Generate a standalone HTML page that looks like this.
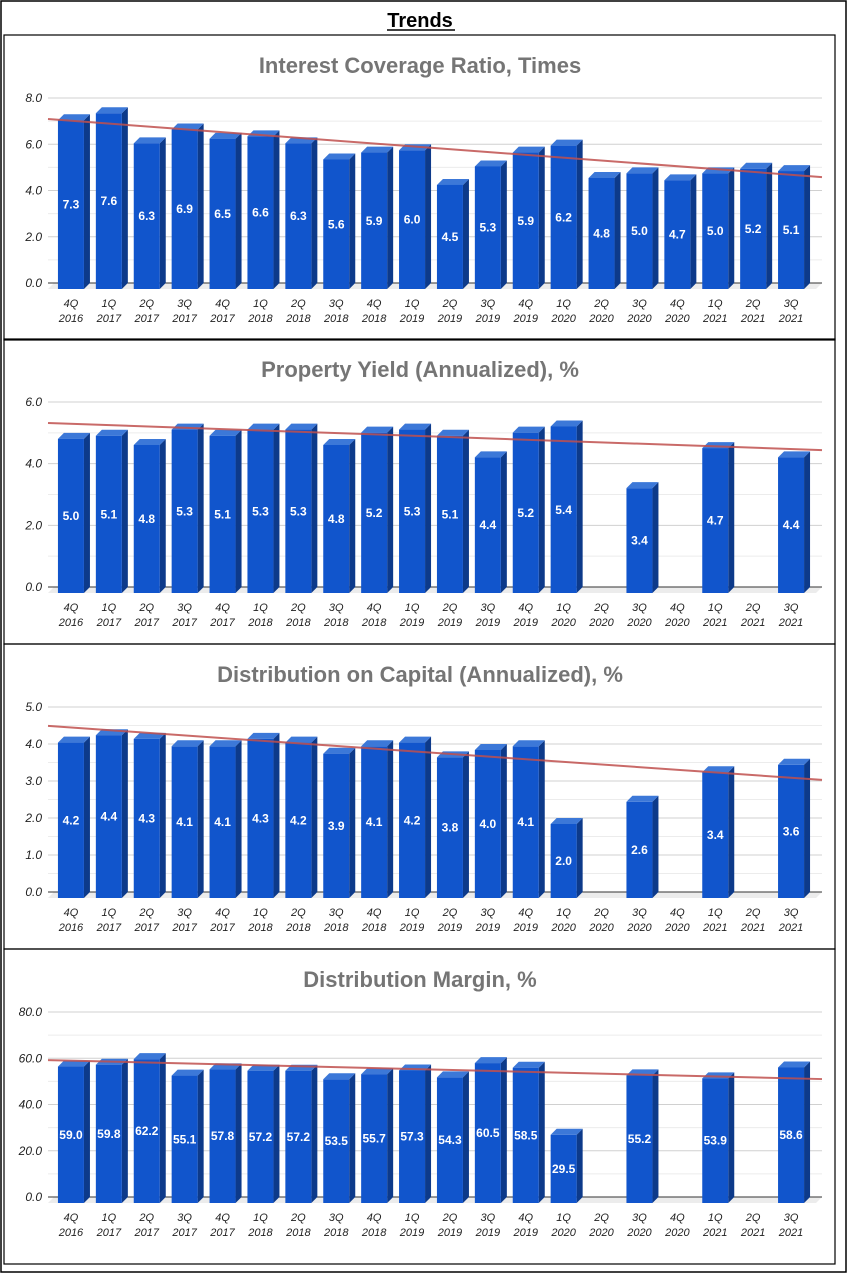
<!DOCTYPE html>
<html><head><meta charset="utf-8"><style>
body{margin:0;background:#fff;font-family:"Liberation Sans",Arial,sans-serif}
svg text{font-family:"Liberation Sans",Arial,sans-serif}
</style></head><body>
<svg id="s" width="848" height="1276" xmlns="http://www.w3.org/2000/svg">
<rect x="1" y="1" width="845" height="1271" fill="none" stroke="#000" stroke-width="1.5"/>
<text x="420" y="27" text-anchor="middle" font-size="20" font-weight="bold">Trends</text>
<line x1="387" y1="30" x2="455" y2="30" stroke="#000" stroke-width="1.5"/>
</svg>
<script>
const categories=["4Q|2016","1Q|2017","2Q|2017","3Q|2017","4Q|2017","1Q|2018","2Q|2018","3Q|2018","4Q|2018","1Q|2019","2Q|2019","3Q|2019","4Q|2019","1Q|2020","2Q|2020","3Q|2020","4Q|2020","1Q|2021","2Q|2021","3Q|2021"];
const icrValues=[7.3,7.6,6.3,6.9,6.5,6.6,6.3,5.6,5.9,6.0,4.5,5.3,5.9,6.2,4.8,5.0,4.7,5.0,5.2,5.1];
const yieldValues=[5.0,5.1,4.8,5.3,5.1,5.3,5.3,4.8,5.2,5.3,5.1,4.4,5.2,5.4,null,3.4,null,4.7,null,4.4];
const docValues=[4.2,4.4,4.3,4.1,4.1,4.3,4.2,3.9,4.1,4.2,3.8,4.0,4.1,2.0,null,2.6,null,3.4,null,3.6];
const marginValues=[59.0,59.8,62.2,55.1,57.8,57.2,57.2,53.5,55.7,57.3,54.3,60.5,58.5,29.5,null,55.2,null,53.9,null,58.6];
const icrTicks=[0,2,4,6,8];
const yieldTicks=[0,2,4,6];
const docTicks=[0,1,2,3,4,5];
const marginTicks=[0,20,40,60,80];
const icrTrend=[7.09,4.58];
const yieldTrend=[5.32,4.44];
const docTrend=[4.49,3.03];
const marginTrend=[59.2,51.0];

const NS="http://www.w3.org/2000/svg";
const svg=document.getElementById('s');
function mk(tag,attrs,parent){const e=document.createElementNS(NS,tag);for(const k in attrs)e.setAttribute(k,attrs[k]);(parent||svg).appendChild(e);return e;}

function chart(top,title,vals,ticks,trend,dec,key){
  const g=mk('g',{});
  
  
  const panelH=(key==='margin')?315:305;
  const box=mk('rect',{x:4,y:top,width:831,height:panelH,fill:'none',stroke:'#000','stroke-width':1.2},g);
  
  
  const t=mk('text',{x:420,y:top+38,'text-anchor':'middle','font-size':22,'font-weight':'bold',fill:'#757575'},g);
  t.textContent=title;
  
  
  const y0=top+248, yTop=top+63, max=ticks[ticks.length-1];
  const Y=v=>y0-(v/max)*(y0-yTop);
  const x0=48,x1=822,bx0=52,step=37.9;
  const X=i=>bx0+step*i+step/2;
  for(let i=0;i<ticks.length;i++){
    if(i<ticks.length-1){const ym=Y((ticks[i]+ticks[i+1])/2);mk('line',{x1:x0,x2:x1,y1:ym,y2:ym,stroke:'#ececec'},g);}
    const yy=Y(ticks[i]);
    if(i>0)mk('line',{x1:x0,x2:x1,y1:yy,y2:yy,stroke:'#d0d0d0'},g);
    const tl=mk('text',{x:42,y:yy+4,'text-anchor':'end','font-size':12,'font-style':'italic',fill:'#222'},g);
    tl.textContent=ticks[i].toFixed(1);
    
    
  }
  mk('polygon',{points:`${x0},${y0+6} ${x1-6},${y0+6} ${x1},${y0} ${x0+6},${y0}`,fill:'#ececec'},g);
  mk('line',{x1:x0,x2:x1,y1:y0,y2:y0,stroke:'#333'},g);
  vals.forEach((v,i)=>{
    const cx=X(i);
    const lab=categories[i].split('|');
    const xl=mk('text',{x:cx,y:y0+24,'text-anchor':'middle','font-size':11,'font-style':'italic',fill:'#222'},g);
    const s1=mk('tspan',{x:cx},xl);s1.textContent=lab[0];
    const s2=mk('tspan',{x:cx,dy:15},xl);s2.textContent=lab[1];
    
    
    if(v==null)return;
    const bx=cx-13,bw=26,d=6;
    const ft=Y(v)+d, fb=y0+d;
    const bg=mk('g',{},g);
    
    
    mk('polygon',{points:`${bx+bw},${ft} ${bx+bw+d},${ft-d} ${bx+bw+d},${fb-d} ${bx+bw},${fb}`,fill:'#0d3a8a'},bg);
    mk('polygon',{points:`${bx},${ft} ${bx+d},${ft-d} ${bx+bw+d},${ft-d} ${bx+bw},${ft}`,fill:'#3c78d8'},bg);
    mk('rect',{x:bx,y:ft,width:bw,height:fb-ft,fill:'#1155cc'},bg);
    const vl=mk('text',{x:bx+bw/2,y:(ft+fb)/2+4,'text-anchor':'middle','font-size':12,'font-weight':'bold',fill:'#fff'},bg);
    vl.textContent=v.toFixed(dec);
    
    
  });
  const tr=mk('line',{x1:x0,x2:x1,y1:Y(trend[0]),y2:Y(trend[1]),stroke:'#c0504d','stroke-width':2,'stroke-opacity':0.85},g);
  
  
}
chart(35,'Interest Coverage Ratio, Times',icrValues,icrTicks,icrTrend,1,'icr');
chart(339,'Property Yield (Annualized), %',yieldValues,yieldTicks,yieldTrend,1,'yield');
chart(644,'Distribution on Capital (Annualized), %',docValues,docTicks,docTrend,1,'doc');
chart(949,'Distribution Margin, %',marginValues,marginTicks,marginTrend,1,'margin');
</script>
</body></html>
